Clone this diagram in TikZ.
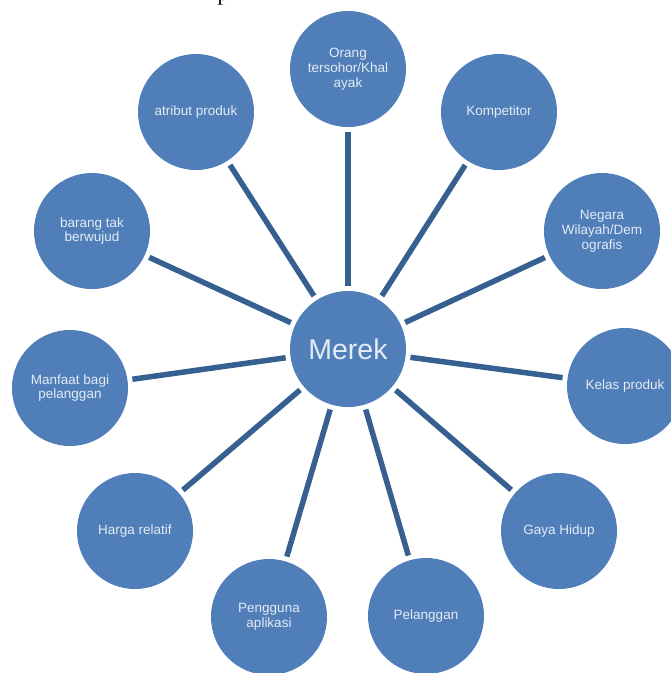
\documentclass[tikz,border=0pt]{standalone}
\usepackage{fontspec}
\setmainfont{Liberation Sans}
\newfontfamily\serifp{Liberation Serif}
\definecolor{circblue}{HTML}{4F7EB9}
\definecolor{linkblue}{HTML}{36608F}
\definecolor{txtlight}{HTML}{E4EBF4}
\tikzset{
  bubble/.style={circle, fill=circblue, draw=none, minimum size=116pt, inner sep=0pt, outer sep=0pt,
    text=txtlight, align=center, font=\fontsize{13.5}{14.8}\selectfont},
  hub/.style={bubble, font=\fontsize{28.5}{30}\selectfont},
  spoke/.style={draw=linkblue, line width=5.5pt, shorten <=5pt, shorten >=5pt}
}
\begin{document}
\begin{tikzpicture}[x=1pt,y=-1pt]
\useasboundingbox (0,0) rectangle (671,673);
\clip (0,0) rectangle (671,673);
\node[anchor=base, font=\serifp\fontsize{22}{24}\selectfont] (ptxt) at (223,0.5) {p};
\node[hub] (m) at (348,349) {Merek};
\node[bubble] (o) at (348,69) {Orang\\tersohor/Khal\\ayak};
\node[bubble] (k) at (499,112) {Kompetitor};
\node[bubble] (n) at (602,231) {Negara\\Wilayah/Dem\\ografis};
\node[bubble] (kp) at (625,386) {Kelas produk};
\node[bubble] (g) at (559,531) {Gaya Hidup};
\node[bubble] (pl) at (426,616) {Pelanggan};
\node[bubble] (pa) at (269,617) {Pengguna\\aplikasi};
\node[bubble] (h) at (135,531) {Harga relatif};
\node[bubble] (mb) at (70,388) {Manfaat bagi\\pelanggan};
\node[bubble] (b) at (92,231) {barang tak\\berwujud};
\node[bubble] (a) at (196,112) {atribut produk};
\foreach \t in {o,k,n,kp,g,pl,pa,h,mb,b,a}
  \draw[spoke] (m) -- (\t);
\end{tikzpicture}
\end{document}
